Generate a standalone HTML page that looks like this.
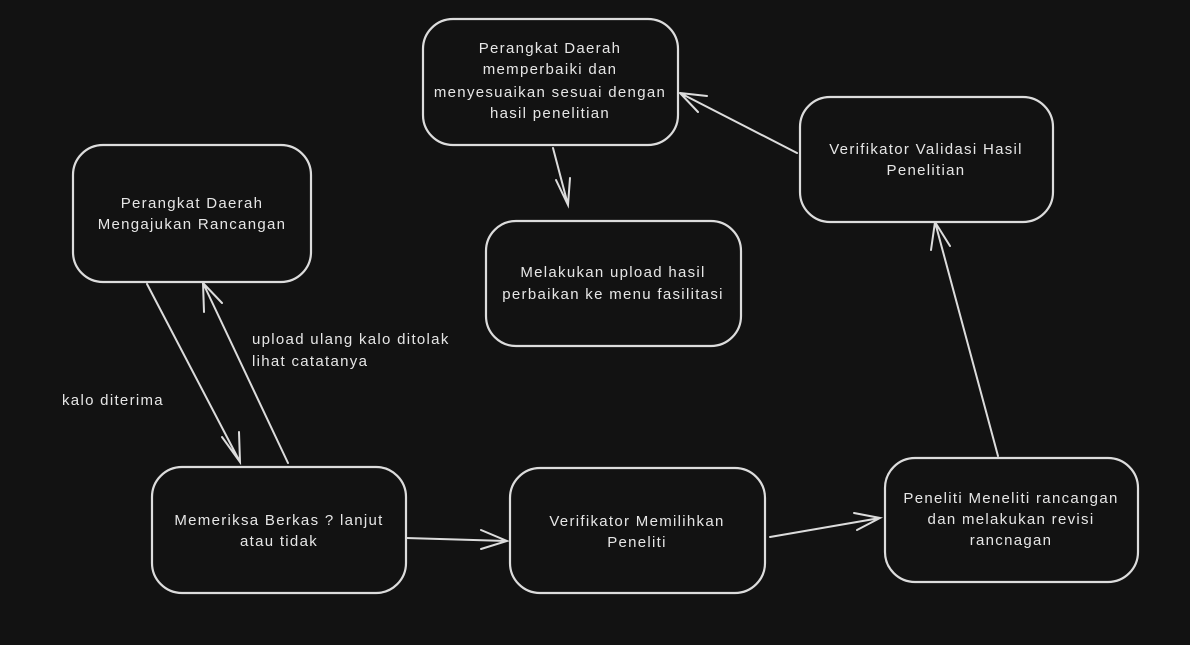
<!DOCTYPE html>
<html><head><meta charset="utf-8"><style>
html,body{margin:0;padding:0;background:#121212;}
svg{display:block}
text{font-family:"Liberation Sans",sans-serif;font-size:15px;letter-spacing:1.3px;fill:#e6e6e6;}
</style></head><body>
<svg width="1190" height="645" viewBox="0 0 1190 645" xmlns="http://www.w3.org/2000/svg">
<rect width="1190" height="645" fill="#121212"/>
<g fill="#121212" stroke="#dcdcdc" stroke-width="2.2">
<rect x="73" y="145" width="238" height="137" rx="30"/>
<rect x="152" y="467" width="254" height="126" rx="30"/>
<rect x="510" y="468" width="255" height="125" rx="30"/>
<rect x="885" y="458" width="253" height="124" rx="30"/>
<rect x="800" y="97" width="253" height="125" rx="30"/>
<rect x="423" y="19" width="255" height="126" rx="30"/>
<rect x="486" y="221" width="255" height="125" rx="30"/>
</g>
<g stroke="#dcdcdc" stroke-width="2" fill="none" stroke-linecap="round">
<path d="M147 284 L240 462 M222 437 L240 462 L239 432"/>
<path d="M288 463 L203 283 M203 283 L204 312 M203 283 L222 303"/>
<path d="M406 538 L507 541 M481 530 L507 541 L481 549"/>
<path d="M770 537 L880 518 M854 513 L880 518 L857 530"/>
<path d="M998 456 L935 222 M935 222 L931 250 M935 222 L950 246"/>
<path d="M797 153 L680 93 M680 93 L707 96 M680 93 L698 112"/>
<path d="M553 148 L568 205 M556 180 L568 205 L570 178"/>
</g>
<g text-anchor="middle">
<text x="192" y="208">Perangkat Daerah</text>
<text x="192" y="229">Mengajukan Rancangan</text>
<text x="279" y="525">Memeriksa Berkas ? lanjut</text>
<text x="279" y="546">atau tidak</text>
<text x="637" y="526">Verifikator Memilihkan</text>
<text x="637" y="547">Peneliti</text>
<text x="1011" y="503">Peneliti Meneliti rancangan</text>
<text x="1011" y="524">dan melakukan revisi</text>
<text x="1011" y="545">rancnagan</text>
<text x="926" y="154">Verifikator Validasi Hasil</text>
<text x="926" y="175">Penelitian</text>
<text x="550" y="53">Perangkat Daerah</text>
<text x="550" y="74">memperbaiki dan</text>
<text x="550" y="97">menyesuaikan sesuai dengan</text>
<text x="550" y="118">hasil penelitian</text>
<text x="613" y="277">Melakukan upload hasil</text>
<text x="613" y="299">perbaikan ke menu fasilitasi</text>
</g>
<text x="252" y="344">upload ulang kalo ditolak</text>
<text x="252" y="366">lihat catatanya</text>
<text x="62" y="405">kalo diterima</text>
</svg>
</body></html>
